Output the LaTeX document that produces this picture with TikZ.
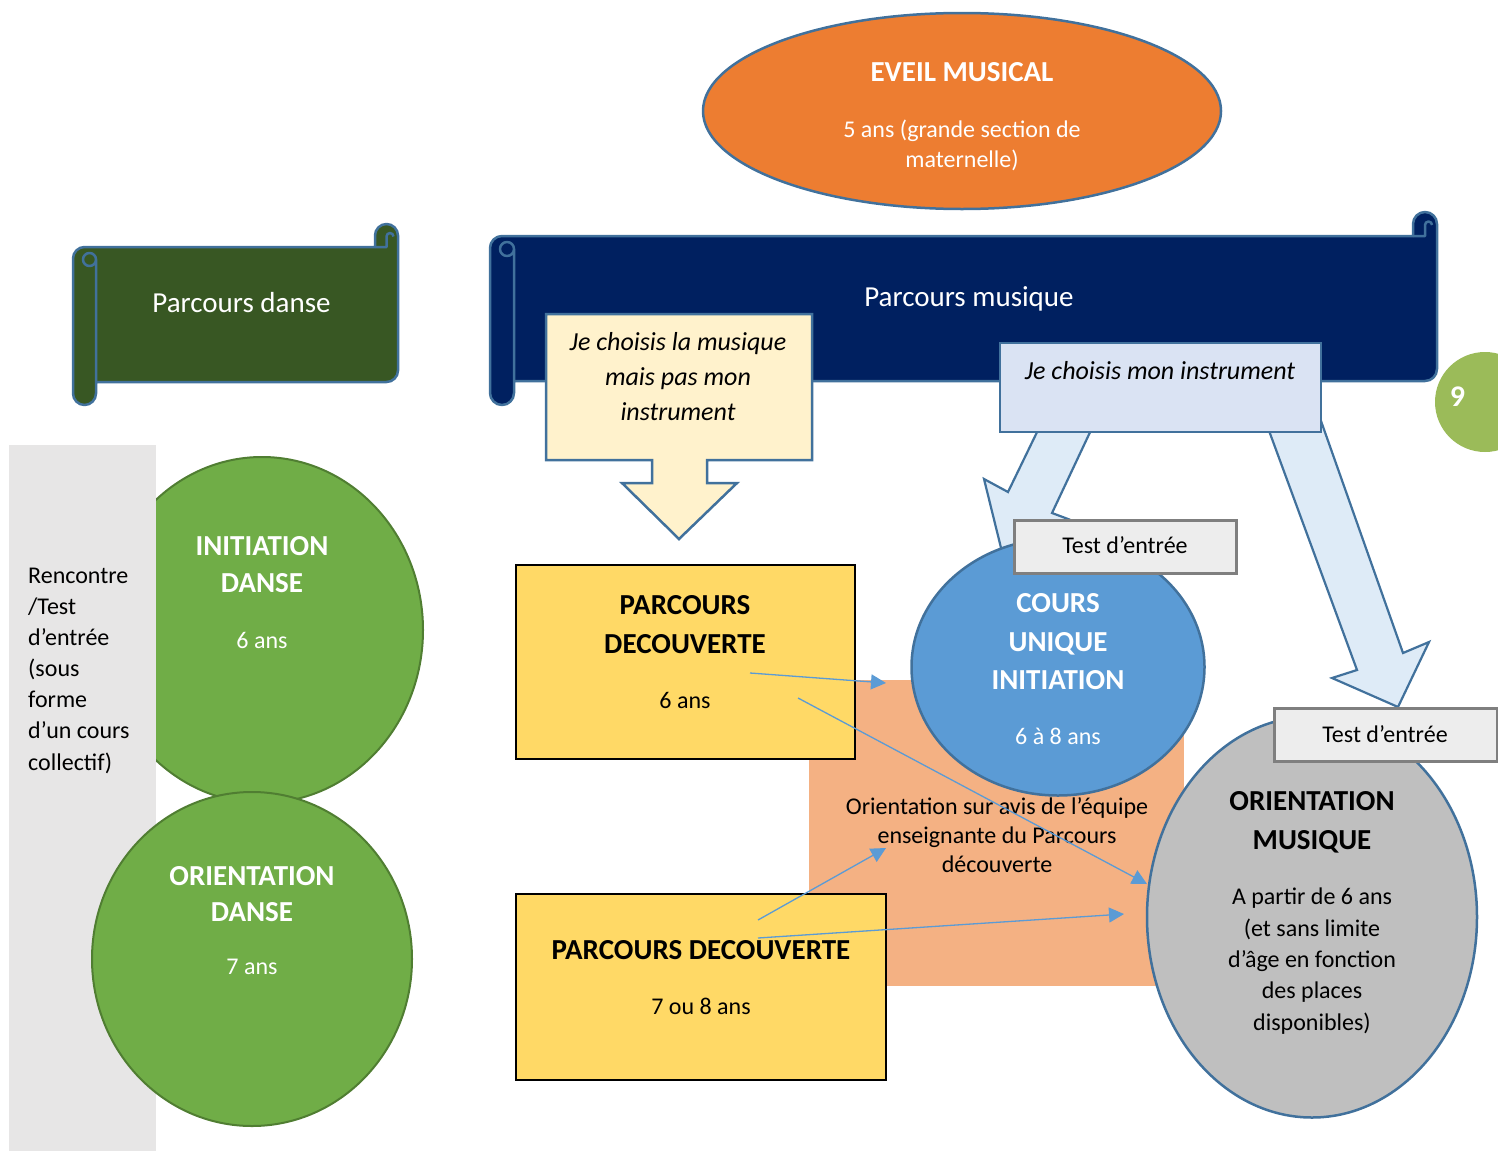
\documentclass[tikz,border=0pt]{standalone}
\usepackage{fontspec}
\setmainfont{Carlito}
\usetikzlibrary{shapes.geometric,arrows.meta}
\definecolor{bordB}{HTML}{41719C}
\definecolor{orgF}{HTML}{ED7D31}
\definecolor{navyF}{HTML}{002060}
\definecolor{dgreenF}{HTML}{385723}
\definecolor{creamF}{HTML}{FFF2CC}
\definecolor{lblueF}{HTML}{DAE3F3}
\definecolor{arrF}{HTML}{DEEBF7}
\definecolor{testF}{HTML}{EDEDED}
\definecolor{testB}{HTML}{7F7F7F}
\definecolor{coursF}{HTML}{5B9BD5}
\definecolor{salmonF}{HTML}{F4B183}
\definecolor{yelF}{HTML}{FFD966}
\definecolor{grayF}{HTML}{BFBFBF}
\definecolor{greenF}{HTML}{70AD47}
\definecolor{greenB}{HTML}{507E32}
\definecolor{nineF}{HTML}{9BBB59}
\definecolor{bandF}{HTML}{E7E6E6}
\definecolor{connC}{HTML}{5B9BD5}
\tikzset{
  shp/.style={inner sep=0pt, outer sep=0pt},
  boxnw/.style={shp, rectangle, anchor=north west},
  oval/.style={shp, ellipse},
  T/.style={inner sep=0pt, anchor=base},
  rg/.style={T, font=\fontsize{24}{29}\selectfont},
  bd/.style={T, font=\fontsize{29}{35}\selectfont\bfseries},
  it/.style={T, font=\fontsize{26}{31}\selectfont\itshape},
  sc/.style={T, font=\fontsize{29}{35}\selectfont, text=white},
  lft/.style={rg, anchor=base west},
  conn/.style={draw=connC, line width=1.3pt, -{Triangle[length=15pt,width=15pt]}},
  scrollline/.style={draw=bordB, line width=2.5pt, line join=round},
  blockarrow/.style={draw=bordB, fill=arrF, line width=2.2pt, line join=miter},
}
\begin{document}
\begin{tikzpicture}[x=1pt, y=-1pt]
\useasboundingbox (0,0) rectangle (1498,1151);

% ---- left column ----
\node[oval, draw=greenB, fill=greenF, line width=2pt, minimum width=322pt, minimum height=346pt] (initd) at (262,630) {};
\node[boxnw, fill=bandF, minimum width=147pt, minimum height=706pt] (band) at (9,445) {};
\node[oval, draw=greenB, fill=greenF, line width=2pt, minimum width=320pt, minimum height=334pt] (orientd) at (252,959) {};

% ---- scrolls ----
\path[scrollline, fill=dgreenF] (73,258.5) arc[start angle=180,end angle=270,radius=11.5] -- (375,247) -- (375,235.5)
  arc[start angle=180,end angle=360,radius=11.5] -- (398,370.5) arc[start angle=0,end angle=90,radius=11.5]
  -- (96,382) -- (96,393.5) arc[start angle=0,end angle=180,radius=11.5] -- cycle;
\draw[scrollline] (96,382) -- (96,259.5) arc[start angle=0,end angle=-180,radius=6.5] arc[start angle=180,end angle=0,radius=6.5];
\draw[scrollline] (375,247) -- (386.5,247) -- (386.5,236.5) arc[start angle=180,end angle=360,radius=3.5];

\path[scrollline, fill=navyF] (490,248) arc[start angle=180,end angle=270,radius=12] -- (1413,236) -- (1413,224)
  arc[start angle=180,end angle=360,radius=12] -- (1437,369) arc[start angle=0,end angle=90,radius=12]
  -- (514,381) -- (514,393) arc[start angle=0,end angle=180,radius=12] -- cycle;
\draw[scrollline] (514,381) -- (514,249) arc[start angle=0,end angle=-180,radius=7] arc[start angle=180,end angle=0,radius=7];
\draw[scrollline] (1413,236) -- (1425,236) -- (1425,225) arc[start angle=180,end angle=360,radius=3.5];

% ---- top ellipse ----
\node[oval, draw=bordB, fill=orgF, line width=2.5pt, minimum width=518pt, minimum height=196pt] (eveil) at (962,111) {};

% ---- page number ----
\node[shp, circle, fill=nineF, minimum size=100pt] (nine) at (1485,402) {};

% ---- block arrows ----
\draw[blockarrow] (1039,428) -- (1008,492) -- (984,479) -- (1003,556) -- (1068,519) -- (1052,513) -- (1092,428) -- cycle;
\draw[blockarrow] (1268,428) -- (1357,670) -- (1332,678) -- (1398,707) -- (1429,642) -- (1403,653) -- (1321,421) -- cycle;

% ---- callouts ----
\node[boxnw, draw=bordB, fill=lblueF, line width=2.5pt, minimum width=321pt, minimum height=89pt] (instr) at (1000,343) {};
\draw[draw=bordB, fill=creamF, line width=2.5pt] (546,314) -- (812,314) -- (812,460) -- (707,460) -- (707,483) -- (737,483)
  -- (679,539) -- (622,483) -- (652,483) -- (652,460) -- (546,460) -- cycle;

% ---- middle ----
\node[boxnw, fill=salmonF, minimum width=375pt, minimum height=306pt] (orient) at (809,680) {};
\node[boxnw, draw=black, fill=yelF, line width=2.5pt, minimum width=339pt, minimum height=194pt] (pd1) at (516,565) {};
\node[boxnw, draw=black, fill=yelF, line width=2.5pt, minimum width=370pt, minimum height=186pt] (pd2) at (516,894) {};
\node[oval, draw=bordB, fill=coursF, line width=2.5pt, minimum width=293pt, minimum height=257pt] (cours) at (1058,667) {};
\node[boxnw, draw=testB, fill=testF, line width=3pt, minimum width=222pt, minimum height=53pt] (test1) at (1014,520) {};
\node[oval, draw=bordB, fill=grayF, line width=2.5pt, minimum width=330pt, minimum height=401pt] (om) at (1312,917) {};
\node[boxnw, draw=testB, fill=testF, line width=3pt, minimum width=223pt, minimum height=53pt] (test2) at (1274,708) {};

% ---- texts ----
\node[bd, text=white] (evT) at (962,81) {EVEIL MUSICAL};
\node[rg, text=white] (evA) at (962,137) {5 ans (grande section de};
\node[rg, text=white] (evB) at (962,167) {maternelle)};

\node[sc] (danseT) at (241.5,312) {Parcours danse};
\node[sc] (musT) at (969,306) {Parcours musique};

\node[it] (crA) at (678,350) {Je choisis la musique};
\node[it] (crB) at (678,385) {mais pas mon};
\node[it] (crC) at (678,420) {instrument};
\node[it] (instrT) at (1160,379) {Je choisis mon instrument};

\node[rg] (test1T) at (1125,553) {Test d’entrée};
\node[rg] (test2T) at (1385,742) {Test d’entrée};

\node[bd, text=white] (coA) at (1058,612) {COURS};
\node[bd, text=white] (coB) at (1058,651) {UNIQUE};
\node[bd, text=white] (coC) at (1058,689) {INITIATION};
\node[rg, text=white] (coD) at (1058,744) {6 à 8 ans};

\node[bd] (p1A) at (685,614) {PARCOURS};
\node[bd] (p1B) at (685,653) {DECOUVERTE};
\node[rg] (p1C) at (685,708) {6 ans};

\node[bd] (p2A) at (701,959) {PARCOURS DECOUVERTE};
\node[rg] (p2B) at (701,1014) {7 ou 8 ans};

\node[rg] (orA) at (997,814) {Orientation sur avis de l’équipe};
\node[rg] (orB) at (997,843) {enseignante du Parcours};
\node[rg] (orC) at (997,872) {découverte};

\node[bd] (omA) at (1312,810) {ORIENTATION};
\node[bd] (omB) at (1312,849) {MUSIQUE};
\node[rg] (omC) at (1312,904) {A partir de 6 ans};
\node[rg] (omD) at (1312,936) {(et sans limite};
\node[rg] (omE) at (1312,967) {d’âge en fonction};
\node[rg] (omF) at (1312,998) {des places};
\node[rg] (omG) at (1312,1030) {disponibles)};

\node[bd, text=white] (idA) at (262,555) {INITIATION};
\node[bd, text=white] (idB) at (262,592) {DANSE};
\node[rg, text=white] (idC) at (262,648) {6 ans};

\node[bd, text=white] (odA) at (252,885) {ORIENTATION};
\node[bd, text=white] (odB) at (252,921) {DANSE};
\node[rg, text=white] (odC) at (252,974) {7 ans};

\node[lft] (bA) at (28,583) {Rencontre};
\node[lft] (bB) at (28,614) {/Test};
\node[lft] (bC) at (28,645) {d’entrée};
\node[lft] (bD) at (28,676) {(sous};
\node[lft] (bE) at (28,707) {forme};
\node[lft] (bF) at (28,738) {d’un cours};
\node[lft] (bG) at (28,770) {collectif)};

\node[T, font=\fontsize{30}{36}\selectfont\bfseries, text=white] (nineT) at (1457.5,406.5) {9};

% ---- connectors ----
\coordinate (a1) at (750,673); \coordinate (a2) at (886,683);
\coordinate (b1) at (798,698); \coordinate (b2) at (1147,884);
\coordinate (c1) at (758,920); \coordinate (c2) at (886,848);
\coordinate (d1) at (758,938); \coordinate (d2) at (1124,914);
\draw[conn] (a1) -- (a2);
\draw[conn] (b1) -- (b2);
\draw[conn] (c1) -- (c2);
\draw[conn] (d1) -- (d2);
\end{tikzpicture}
\end{document}
